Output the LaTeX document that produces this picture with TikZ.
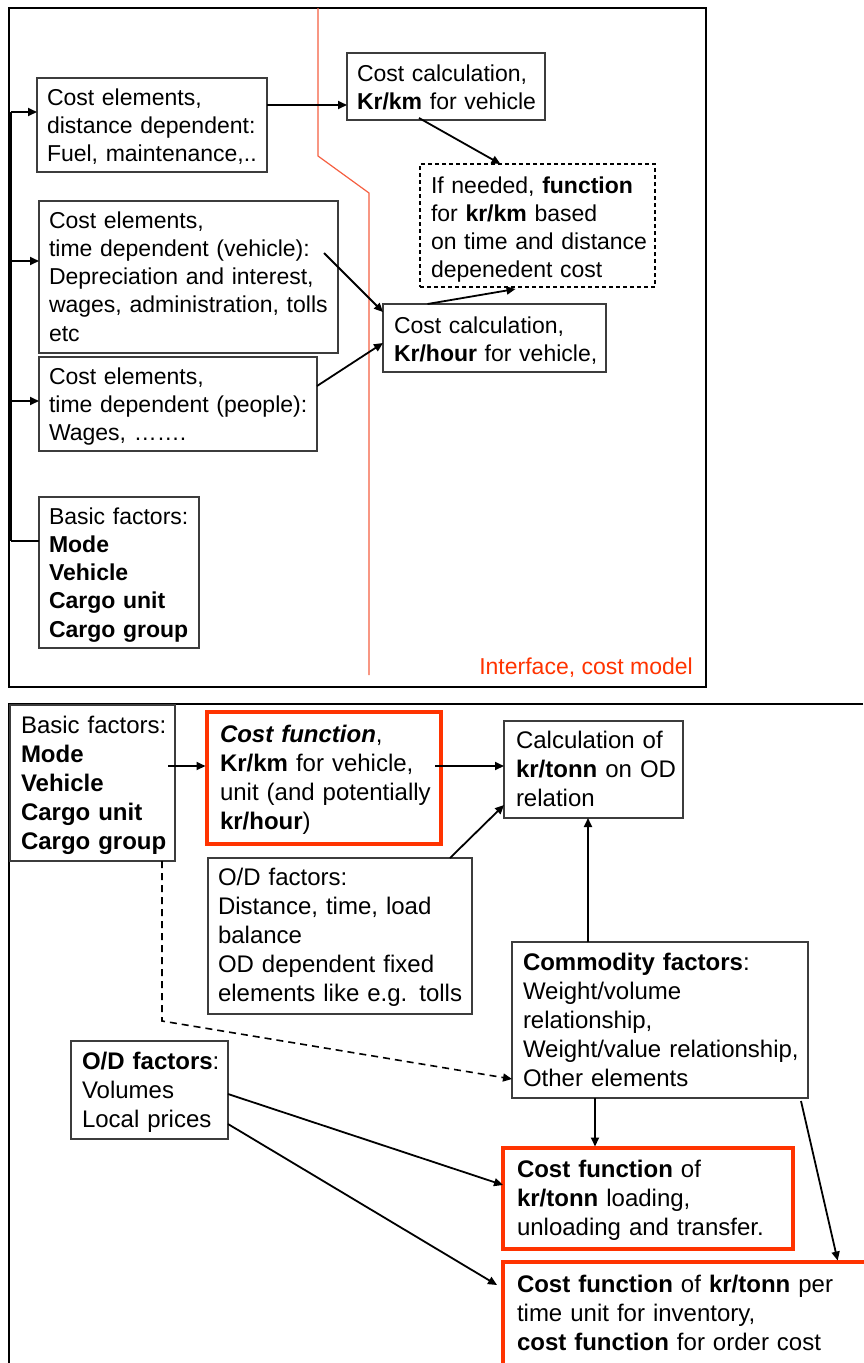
\documentclass[tikz,border=0pt]{standalone}
\usepackage{fontspec}
\setmainfont{Liberation Sans}
\usetikzlibrary{arrows.meta}
\definecolor{ored}{RGB}{255,51,0}
\definecolor{iline}{RGB}{245,95,65}
\definecolor{bgray}{RGB}{60,60,60}
\newcommand\myl[1]{\mbox{#1}}
\newcommand\tstr[1]{\rule{0pt}{#1pt}}
\newcommand\bstr[1]{\rule[-#1pt]{0pt}{#1pt}}
\begin{document}
\begin{tikzpicture}[x=1pt,y=-1pt,
  box/.style={draw=bgray, line width=1.3pt, anchor=north west, outer sep=0pt,
    inner xsep=10pt, inner ysep=0pt, align=left, execute at begin node={\parindent=0pt}},
  redbox/.style={box, draw=ored, line width=3.5pt},
  dbox/.style={box, draw=black, line width=1.8pt, dash pattern=on 4pt off 3pt},
  topf/.style={font=\fontsize{23}{28.3}\selectfont},
  botf/.style={font=\fontsize{24}{29.2}\selectfont},
  sz/.style 2 args={text width=#1, minimum height=#2},
  arr/.style={line width=1.8pt, -{Triangle[length=9pt,width=8pt]}},
  plain/.style={line width=1.8pt},
  darr/.style={line width=1.6pt, dash pattern=on 7pt off 5pt, -{Triangle[length=9pt,width=8pt]}},
  frame/.style={line width=2.5pt, black},
  iface/.style={line width=1.2pt, draw=iline}]
\useasboundingbox (0,0) rectangle (863,1363);

% ---------- top section ----------
\draw[frame] (9,8) rectangle (706,687);
\draw[iface] (318,8) -- (318,156) -- (369,193) -- (369,675);
\node[anchor=base east, text=ored, font=\fontsize{23}{28}\selectfont, inner sep=0pt] (ifl) at (693,674) {Interface, cost model};

\node[box,topf,sz={210pt}{94pt}] (A) at (37,78)
  {\myl{\tstr{27}Cost elements,}\\\myl{distance dependent:}\\\myl{Fuel, maintenance,..\bstr{10.4}}};
\node[box,topf,sz={279pt}{152pt}] (B) at (39,201)
  {\myl{\tstr{27}Cost elements,}\\\myl{time dependent (vehicle):}\\\myl{Depreciation and interest,}\\\myl{wages, administration, tolls}\\\myl{etc\bstr{11.8}}};
\node[box,topf,sz={258pt}{94pt}] (C) at (39,357)
  {\myl{\tstr{27}Cost elements,}\\\myl{time dependent (people):}\\\myl{Wages, …….\bstr{10.4}}};
\node[box,topf,sz={140pt}{151pt}] (D) at (39,497)
  {\myl{\tstr{27}Basic factors:}\\\myl{\textbf{Mode}}\\\myl{\textbf{Vehicle}}\\\myl{\textbf{Cargo unit}}\\\myl{\textbf{Cargo group}\bstr{10.8}}};
\node[box,topf,sz={178pt}{67pt}] (E) at (347,53)
  {\myl{\tstr{28}Cost calculation,}\\\myl{\textbf{Kr/km} for vehicle\bstr{10.7}}};
\node[dbox,topf,inner xsep=11pt,sz={213pt}{123pt}] (F) at (420,164)
  {\myl{\tstr{29}If needed, \textbf{function}}\\\myl{for \textbf{kr/km} based}\\\myl{on time and distance}\\\myl{depenedent cost\bstr{9.1}}};
\node[box,topf,inner xsep=11pt,sz={201pt}{68pt}] (G) at (383,304)
  {\myl{\tstr{29}Cost calculation,}\\\myl{\textbf{Kr/hour} for vehicle,\bstr{10.7}}};

\coordinate (bus) at (10.5,0);
\coordinate (pA) at ([yshift=13pt]A.west);
\coordinate (pB) at ([yshift=16pt]B.west);
\coordinate (pC) at ([yshift=3pt]C.west);
\coordinate (pD) at ([yshift=31.5pt]D.west);
\draw[line width=2.2pt] (pA -| bus) -- (pD -| bus);
\draw[arr] (pA -| bus) -- (pA);
\draw[arr] (pB -| bus) -- (pB);
\draw[arr] (pC -| bus) -- (pC);
\draw[plain] (pD -| bus) -- (pD);

\coordinate (pAE) at ([yshift=20pt]A.east);
\draw[arr] (pAE) -- (pAE -| E.west);
\draw[arr] ([xshift=-27pt,yshift=2pt]E.south) -- ([xshift=-37pt]F.north);
\draw[arr] ([xshift=-14pt,yshift=24pt]B.east) -- ([yshift=26pt]G.west);
\draw[arr] ([yshift=18pt]C.east) -- ([yshift=-5pt]G.west);
\draw[arr] ([xshift=-67pt]G.north) -- ([xshift=-22pt,yshift=-2pt]F.south);

% ---------- bottom section ----------
\draw[frame] (863,704) -- (9,704) -- (9,1363);

\node[box,botf,inner xsep=11pt,sz={143pt}{156pt}] (H) at (10,705)
  {\myl{\tstr{28}Basic factors:}\\\myl{\textbf{Mode}}\\\myl{\textbf{Vehicle}}\\\myl{\textbf{Cargo unit}}\\\myl{\textbf{Cargo group}\bstr{11.2}}};
\node[redbox,botf,inner xsep=13pt,sz={208pt}{132pt}] (I) at (207,712)
  {\myl{\tstr{30}\textbf{\textit{Cost function}},}\\\myl{\textbf{Kr/km} for vehicle,}\\\myl{unit (and potentially}\\\myl{\textbf{kr/hour})\bstr{14.4}}};
\node[box,botf,sz={244pt}{156pt}] (J) at (208,858)
  {\myl{\tstr{27}O/D factors:}\\\myl{Distance, time, load}\\\myl{balance}\\\myl{OD dependent fixed}\\\myl{elements like e.g. tolls\bstr{12.2}}};
\node[box,botf,inner xsep=12pt,sz={155pt}{97pt}] (K) at (504,721)
  {\myl{\tstr{27}Calculation of}\\\myl{\textbf{kr/tonn} on OD}\\\myl{relation\bstr{11.6}}};
\node[box,botf,inner xsep=11pt,sz={274pt}{156pt}] (L) at (512,942)
  {\myl{\tstr{28}\textbf{Commodity factors}:}\\\myl{Weight/volume}\\\myl{relationship,}\\\myl{Weight/value relationship,}\\\myl{Other elements\bstr{11.2}}};
\node[box,botf,inner xsep=11pt,sz={135pt}{98pt}] (M) at (71,1041)
  {\myl{\tstr{28}\textbf{O/D factors}:}\\\myl{Volumes}\\\myl{Local prices\bstr{11.6}}};
\node[redbox,botf,inner xsep=14pt,sz={262pt}{101pt}] (N) at (503,1148)
  {\myl{\tstr{29}\textbf{Cost function} of}\\\myl{\textbf{kr/tonn} loading,}\\\myl{unloading and transfer.\bstr{13.6}}};
\node[redbox,botf,inner xsep=14pt,sz={335pt}{108pt}] (O) at (503,1262)
  {\myl{\tstr{30}\textbf{Cost function} of \textbf{kr/tonn} per}\\\myl{time unit for inventory,}\\\myl{\textbf{cost function} for order cost\bstr{19.6}}};

\coordinate (pHI) at ([xshift=-7pt,yshift=17pt]H.east);
\draw[arr, shorten >=1.5pt] (pHI) -- (pHI -| I.west);
\coordinate (pIK) at ([xshift=-6pt,yshift=12pt]I.east);
\draw[arr] (pIK) -- (pIK -| K.west);
\draw[arr] ([xshift=110pt]J.north) -- ([yshift=-35.5pt]K.west);
\coordinate (pLK) at ([xshift=-72pt]L.north);
\draw[arr] (pLK) -- (pLK |- K.south);
\coordinate (hs) at ([xshift=69.5pt]H.south);
\coordinate (dbend) at (162,1021);
\draw[darr] (hs) -- (dbend) -- ([yshift=-59pt]L.west);
\draw[arr] ([yshift=-4pt]M.east) -- ([yshift=13.5pt]N.west);
\draw[arr] ([yshift=-34pt]M.east) -- ([xshift=-6pt,yshift=31pt]O.west);
\coordinate (pLN) at ([xshift=-65pt]L.south);
\draw[arr, shorten >=1.5pt] (pLN) -- (pLN |- N.north);
\draw[arr, shorten >=1.5pt] ([xshift=-7pt,yshift=-3pt]L.south east) -- ([xshift=153.5pt]O.north);
\end{tikzpicture}
\end{document}
